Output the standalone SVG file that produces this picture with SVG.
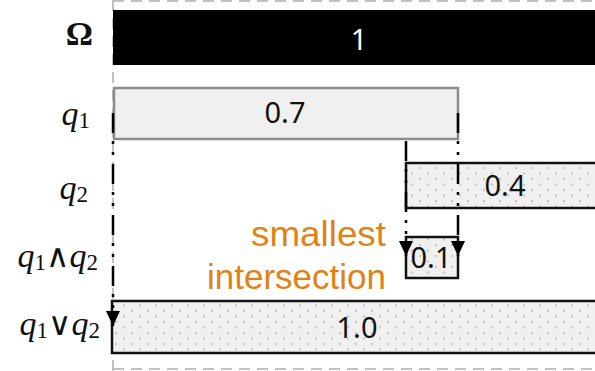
<svg xmlns="http://www.w3.org/2000/svg" width="595" height="371" viewBox="0 0 595 371">
  <style>
    .frame { fill: none; stroke: #c0c0c0; stroke-width: 2; stroke-dasharray: 11 7; }
    .num { font-family: "Noto Sans", "Open Sans", sans-serif; font-size: 29px; text-anchor: middle; fill: #111; }
    .lbl { font-family: "Liberation Serif", "DejaVu Serif", serif; font-size: 34px; text-anchor: end; fill: #111; }
    .lbl .v { font-style: italic; }
    .lbl .s { font-size: 23px; }
    .op { font-family: "DejaVu Serif", serif; font-size: 32px; }
    .dotted { fill: url(#dots); stroke: #111; stroke-width: 2.5; }
    .link { fill: none; stroke: #000; stroke-width: 2.5; stroke-dasharray: 20 8 3 8 3 9; marker-end: url(#arrow); }
    .note { font-family: "Liberation Sans", Arial, sans-serif; font-size: 35px; fill: #E08214; text-anchor: end; }
  </style>
  <defs>
    <pattern id="dots" width="16" height="11" patternUnits="userSpaceOnUse">
      <rect width="16" height="11" fill="#f0f0f0"/>
      <rect x="3" y="2" width="2" height="2" fill="#c6c6b0"/>
      <rect x="11" y="7.5" width="2" height="2" fill="#c6c6b0"/>
    </pattern>
    <marker id="arrow" markerUnits="userSpaceOnUse" markerWidth="14" markerHeight="16" refX="7" refY="15" orient="0" viewBox="0 0 14 16">
      <path d="M0,0 L14,0 L7,15 Z" fill="#000"/>
    </marker>
  </defs>

  <!-- outer dashed frame -->
  <g id="frame">
    <line class="frame" x1="113" y1="1" x2="595" y2="1"/>
    <line class="frame" x1="113" y1="0" x2="113" y2="371"/>
    <line class="frame" x1="113" y1="369" x2="595" y2="369"/>
  </g>

  <!-- row labels -->
  <g id="labels">
    <text class="lbl" x="93" y="45" font-weight="bold" font-size="30">Ω</text>
    <text class="lbl" x="90" y="125"><tspan class="v">q</tspan><tspan class="s" dy="3">1</tspan></text>
    <text class="lbl" x="88" y="199"><tspan class="v">q</tspan><tspan class="s" dy="3">2</tspan></text>
    <text class="lbl" x="98" y="267"><tspan class="v">q</tspan><tspan class="s" dy="3">1</tspan><tspan class="op" dy="-3">∧</tspan><tspan class="v">q</tspan><tspan class="s" dy="3">2</tspan></text>
    <text class="lbl" x="100" y="335"><tspan class="v">q</tspan><tspan class="s" dy="3">1</tspan><tspan class="op" dy="-3">∨</tspan><tspan class="v">q</tspan><tspan class="s" dy="3">2</tspan></text>
  </g>

  <g id="omega">
    <rect x="113" y="10" width="482" height="55" fill="#000"/>
    <text class="num" x="359" y="50" style="fill:#fff">1</text>
  </g>

  <g id="q1">
    <rect x="114" y="88" width="344" height="51" fill="#f0f0f0" stroke="#8c8c8c" stroke-width="2.5"/>
    <text class="num" x="285" y="123">0.7</text>
  </g>

  <g id="q2">
    <rect class="dotted" x="406" y="163" width="200" height="45"/>
    <text class="num" x="505" y="196">0.4</text>
  </g>

  <g id="q1_and_q2">
    <rect class="dotted" x="406" y="237" width="52" height="41"/>
    <text class="num" x="431" y="268" font-size="24">0.1</text>
  </g>

  <g id="q1_or_q2">
    <rect class="dotted" x="112" y="301" width="500" height="52" stroke-width="3"/>
    <text class="num" x="357" y="338">1.0</text>
  </g>

  <g id="note">
    <text class="note" x="386" y="246" textLength="135" lengthAdjust="spacingAndGlyphs">smallest</text>
    <text class="note" x="386" y="289">intersection</text>
  </g>

  <!-- projection lines -->
  <g id="connectors">
    <path class="link" d="M113,113 V326"/>
    <path class="link" d="M458,113 V256"/>
    <path class="link" d="M406,141 V256"/>
  </g>
</svg>
